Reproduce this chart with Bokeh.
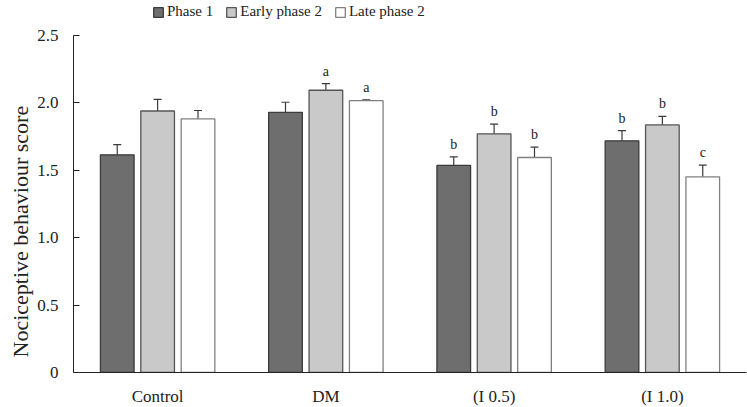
from bokeh.plotting import figure
from bokeh.models import (ColumnDataSource, FactorRange, Range1d, Whisker, TeeHead,
                          Legend, LegendItem, FixedTicker, Title)
from bokeh.transform import dodge
from bokeh.core.properties import value
from bokeh.embed import file_html
from bokeh.resources import INLINE

categories = ["Control", "DM", "(I 0.5)", "(I 1.0)"]
series_names = ["Phase 1", "Early phase 2", "Late phase 2"]
phase1 = [1.615, 1.93, 1.536, 1.719]
phase1_err = [0.076, 0.075, 0.064, 0.075]
early2 = [1.94, 2.094, 1.771, 1.837]
early2_err = [0.087, 0.05, 0.072, 0.063]
late2 = [1.882, 2.017, 1.595, 1.452]
late2_err = [0.062, 0.006, 0.077, 0.087]
phase1_sig = ["", "", "b", "b"]
early2_sig = ["", "a", "b", "b"]
late2_sig = ["", "a", "b", "c"]
y_ticks = [0, 0.5, 1.0, 1.5, 2.0, 2.5]
y_tick_labels = ["0", "0.5", "1.0", "1.5", "2.0", "2.5"]

FONT = "Liberation Serif"

p = figure(x_range=FactorRange(*categories, range_padding=0), y_range=Range1d(0, 2.76),
           frame_width=673, frame_height=372, output_backend="svg", toolbar_location=None,
           min_border_left=73, min_border_right=1, min_border_top=0, min_border_bottom=30)
p.outline_line_color = None
p.xgrid.grid_line_color = None
p.ygrid.grid_line_color = None
p.background_fill_color = "white"

styles = [
    (phase1, phase1_err, phase1_sig, -0.24, "#6e6e6e", "#3a3a3a"),
    (early2, early2_err, early2_sig, 0.0, "#c9c9c9", "#555555"),
    (late2, late2_err, late2_sig, 0.24, "#ffffff", "#808080"),
]
renderers = []
for vals, errs, sig, off, fill, line in styles:
    src = ColumnDataSource(dict(
        cat=categories, val=vals,
        upper=[v + e for v, e in zip(vals, errs)],
        lower=[v - e for v, e in zip(vals, errs)],
        sig=sig,
    ))
    xd = dodge("cat", off, range=p.x_range)
    r = p.vbar(x=xd, top="val", width=0.2, source=src, fill_color=fill,
               line_color=line, line_width=1.3)
    renderers.append(r)
    w = Whisker(base=xd, upper="upper", lower="lower", source=src,
                line_color="#3a3a3a", line_width=1.2,
                upper_head=TeeHead(size=8, line_color="#3a3a3a", line_width=1.2),
                lower_head=TeeHead(size=8, line_color="#3a3a3a", line_width=1.2))
    p.add_layout(w)
    p.text(x=xd, y="upper", text="sig", source=src, text_align="center",
           text_baseline="bottom", y_offset=-5, text_font=value(FONT),
           text_font_size="14px", text_color="#222222")

# main y axis (ticks + labels)
p.yaxis.bounds = (0, 2.5)
p.yaxis.ticker = FixedTicker(ticks=y_ticks)
p.yaxis.major_label_overrides = {t: l for t, l in zip(y_ticks, y_tick_labels)}
p.yaxis.major_label_text_font = FONT
p.yaxis.major_label_text_font_size = "17px"
p.yaxis.major_label_text_color = "#222222"
p.yaxis.major_tick_in = 6
p.yaxis.major_tick_out = 0
p.yaxis.minor_tick_line_color = None
p.yaxis.major_label_standoff = 15
p.yaxis.axis_line_color = "#222222"
p.yaxis.major_tick_line_color = "#222222"

# y-axis title as a side title so it can be offset along the axis
ytitle = Title(text="Nociceptive behaviour score", align="left", offset=15,
               text_font=FONT, text_font_style="normal", text_font_size="22px",
               text_color="#222222", standoff=0, vertical_align="top")
p.add_layout(ytitle, "left")

p.xaxis.major_tick_line_color = None
p.xaxis.minor_tick_line_color = None
p.xaxis.major_label_text_font = FONT
p.xaxis.major_label_text_font_size = "17px"
p.xaxis.major_label_text_color = "#222222"
p.xaxis.major_label_standoff = 8
p.xaxis.axis_line_color = "#222222"

legend = Legend(items=[LegendItem(label=n, renderers=[r]) for n, r in zip(series_names, renderers)],
                orientation="horizontal", location=(79, 352),
                label_text_font=FONT, label_text_font_size="15px", label_text_color="#222222",
                glyph_width=12, glyph_height=12, label_standoff=3, spacing=12, label_height=16,
                padding=0, margin=0, border_line_color=None, background_fill_alpha=0)
p.add_layout(legend, "center")

open("out.html", "w").write(file_html(p, INLINE))
